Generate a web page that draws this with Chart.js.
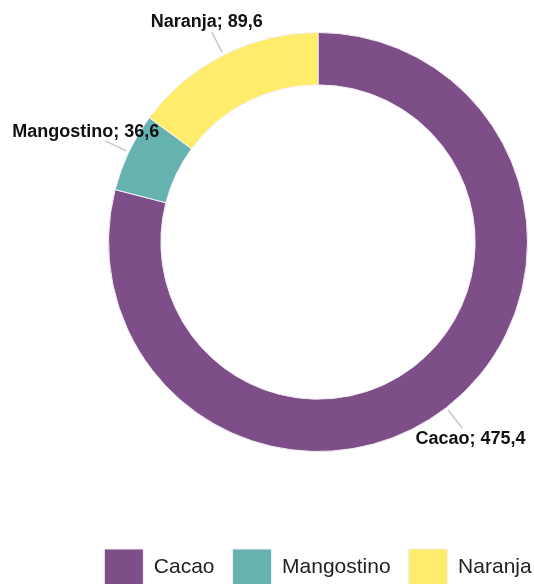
<!DOCTYPE html>
<html>
<head>
<meta charset="utf-8">
<title>Producción</title>
<script src="https://cdn.jsdelivr.net/npm/chart.js@4/dist/chart.umd.min.js"></script>
<style>
  html, body { margin: 0; padding: 0; background: #fff; overflow: hidden; }
  #wrap { width: 534px; height: 584px; overflow: hidden; }
  canvas { display: block; }
</style>
</head>
<body>
<div id="wrap">
  <canvas id="dona" width="636" height="595"></canvas>
</div>
<script>
// Datos
var categorias = ['Cacao', 'Mangostino', 'Naranja'];
var valores = [475.4, 36.6, 89.6];
var colores = ['#7d4e87', '#66b2b0', '#feec6a'];

function formato(v) {
  return v.toFixed(1).replace('.', ',');
}

// etiquetas "Nombre; valor" con linea guia fuera del anillo
var etiquetasExternas = {
  id: 'etiquetasExternas',
  afterDatasetsDraw: function(chart) {
    var ctx = chart.ctx;
    var meta = chart.getDatasetMeta(0);
    ctx.save();
    ctx.font = 'bold 18px "Liberation Sans", Arial, sans-serif';
    ctx.textAlign = 'center';
    ctx.textBaseline = 'middle';
    meta.data.forEach(function(arc, i) {
      var p = arc.getProps(['x', 'y', 'startAngle', 'endAngle', 'outerRadius'], true);
      var ang = (p.startAngle + p.endAngle) / 2;
      var c = Math.cos(ang), s = Math.sin(ang);
      var r0 = p.outerRadius + 3, r1 = p.outerRadius + 26;
      ctx.strokeStyle = '#c8c8c8';
      ctx.lineWidth = 1.5;
      ctx.beginPath();
      ctx.moveTo(p.x + c * r0, p.y + s * r0);
      ctx.lineTo(p.x + c * r1, p.y + s * r1);
      ctx.stroke();
      var txt = categorias[i] + '; ' + formato(valores[i]);
      var hw = ctx.measureText(txt).width / 2;
      var rt = p.outerRadius + 31 + 0.25 * Math.abs(c) * hw;
      ctx.fillStyle = '#111';
      ctx.fillText(txt, p.x + c * rt, p.y + s * rt);
    });
    ctx.restore();
  }
};

var ctx = document.getElementById('dona').getContext('2d');
var data = {
  labels: categorias,
  datasets: [{
    data: valores,
    backgroundColor: colores,
    borderColor: '#f4eef6',
    borderWidth: 1,
    hoverOffset: 0
  }]
};

var grafico = new Chart(ctx, {
  type: 'doughnut',
  data: data,
  plugins: [etiquetasExternas],
  options: {
    responsive: false,
    animation: false,
    cutout: '75%',
    layout: { padding: { top: 32 } },
    plugins: {
      tooltip: { enabled: false },
      legend: {
        display: true,
        position: 'bottom',
        title: {
          display: true,
          text: '',
          font: { size: 10 },
          padding: { top: 67, bottom: 0 }
        },
        labels: {
          boxWidth: 39,
          boxHeight: 36,
          padding: 18,
          color: '#222',
          font: { size: 21, family: '"Liberation Sans", Arial, sans-serif' }
        }
      }
    }
  }
});
</script>
</body>
</html>
